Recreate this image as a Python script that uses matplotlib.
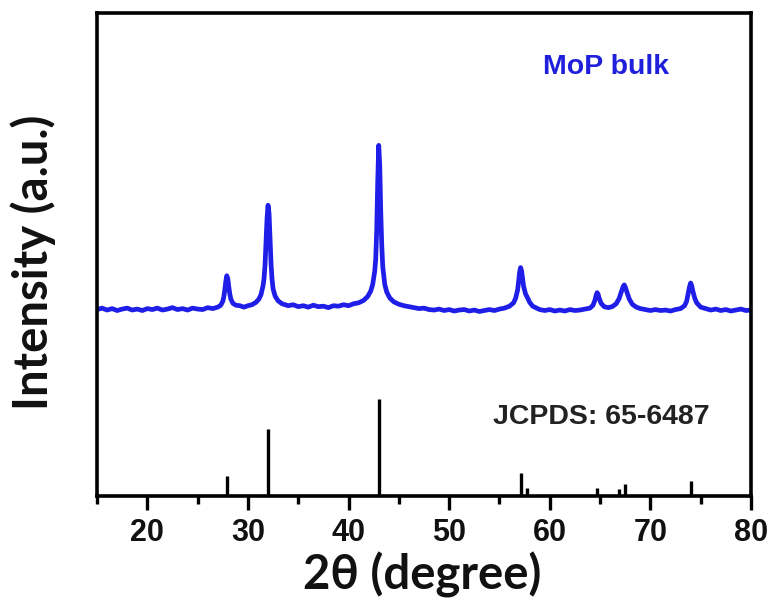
import matplotlib
matplotlib.use("Agg")
import matplotlib.pyplot as plt
from matplotlib.ticker import MultipleLocator

# Measured XRD pattern (2theta, intensity in arbitrary units)
two_theta = [15.0, 15.5, 16.0, 16.5, 17.0, 17.5, 18.0, 18.5, 19.0, 19.5, 20.0, 20.5,
             21.0, 21.5, 22.0, 22.5, 23.0, 23.5, 24.0, 24.5, 25.0, 25.5, 26.0, 26.5,
             27.0, 27.3, 27.5, 27.6, 27.7, 27.8, 27.9, 28.0, 28.1, 28.2, 28.3, 28.5,
             28.8, 29.2, 29.6, 30.0, 30.4, 30.8, 31.1, 31.3, 31.5, 31.6, 31.7, 31.8,
             31.9, 32.0, 32.1, 32.2, 32.3, 32.4, 32.5, 32.7, 33.0, 33.4, 34.0, 34.5,
             35.0, 35.5, 36.0, 36.5, 37.0, 37.5, 38.0, 38.5, 39.0, 39.5, 40.0, 40.5,
             41.0, 41.5, 41.9, 42.2, 42.4, 42.6, 42.7, 42.8, 42.9, 43.0, 43.1, 43.2,
             43.3, 43.4, 43.6, 43.8, 44.1, 44.5, 45.0, 45.5, 46.0, 46.5, 47.0, 47.5,
             48.0, 48.5, 49.0, 49.5, 50.0, 50.5, 51.0, 51.5, 52.0, 52.5, 53.0, 53.5,
             54.0, 54.5, 55.0, 55.5, 56.0, 56.4, 56.6, 56.8, 56.9, 57.0, 57.1, 57.2,
             57.3, 57.4, 57.6, 57.8, 58.0, 58.3, 58.7, 59.0, 59.5, 60.0, 60.5, 61.0,
             61.5, 62.0, 62.5, 63.0, 63.5, 64.0, 64.3, 64.5, 64.6, 64.7, 64.8, 64.9,
             65.1, 65.4, 65.8, 66.2, 66.6, 66.9, 67.1, 67.3, 67.4, 67.5, 67.7, 67.9,
             68.2, 68.6, 69.0, 69.5, 70.0, 70.5, 71.0, 71.5, 72.0, 72.5, 73.0, 73.4,
             73.6, 73.8, 73.9, 74.0, 74.1, 74.2, 74.4, 74.6, 75.0, 75.5, 76.0, 76.5,
             77.0, 77.5, 78.0, 78.5, 79.0, 79.5, 80.0]
intensity = [38.6, 38.9, 38.5, 38.8, 38.4, 38.7, 38.9, 38.5, 38.7, 38.4, 38.8, 38.6,
             38.9, 38.5, 38.7, 39.0, 38.6, 38.8, 38.5, 38.9, 38.7, 38.6, 39.0, 38.8,
             39.1, 39.5, 40.3, 41.2, 42.6, 44.4, 45.6, 45.0, 43.3, 41.8, 40.8, 39.9,
             39.5, 39.4, 39.1, 39.4, 39.6, 40.1, 40.8, 41.7, 43.5, 45.0, 47.8, 52.5,
             57.5, 60.2, 58.5, 53.5, 48.0, 44.8, 42.9, 41.4, 40.4, 39.8, 39.4, 39.6,
             39.2, 39.4, 39.1, 39.5, 39.2, 39.3, 39.0, 39.4, 39.3, 39.6, 39.4, 39.8,
             40.0, 40.5, 41.3, 42.4, 43.8, 46.5, 49.0, 55.0, 65.0, 72.6, 68.5, 59.0,
             52.0, 47.5, 43.8, 42.2, 41.0, 40.2, 39.7, 39.4, 39.2, 39.0, 38.8, 38.9,
             38.6, 38.5, 38.7, 38.4, 38.6, 38.3, 38.5, 38.6, 38.3, 38.5, 38.2, 38.4,
             38.6, 38.4, 38.7, 38.9, 39.3, 40.0, 40.9, 42.6, 44.3, 46.3, 47.3, 46.6,
             45.0, 43.4, 41.8, 41.0, 40.1, 39.3, 38.9, 38.6, 38.4, 38.6, 38.3, 38.5,
             38.3, 38.6, 38.4, 38.5, 38.7, 38.9, 39.5, 40.6, 41.5, 42.1, 41.8, 41.0,
             39.9, 39.2, 39.0, 39.2, 39.8, 40.9, 42.2, 43.4, 43.7, 43.3, 42.0, 40.8,
             39.7, 39.1, 38.8, 38.6, 38.4, 38.6, 38.4, 38.5, 38.3, 38.6, 38.8, 39.4,
             40.3, 42.3, 43.4, 44.1, 43.6, 42.6, 41.0, 40.0, 39.1, 38.8, 38.5, 38.7,
             38.4, 38.6, 38.3, 38.5, 38.7, 38.4, 38.5]

# Reference pattern JCPDS 65-6487 (relative intensity, %)
ref_two_theta = [27.9, 32.0, 43.0, 57.1, 57.7, 64.7, 66.9, 67.5, 74.05]
ref_intensity = [21, 69, 100, 24, 8, 8, 7, 12, 15]
ref_scale = 0.201  # % -> plot units

fig = plt.figure(figsize=(7.75, 6.01), dpi=100)
ax = fig.add_axes([97 / 775, 105 / 601, 654 / 775, 483 / 601])

ax.plot(two_theta, intensity, color="#1e1ee8", lw=3.4, solid_joinstyle="round")
ax.vlines(ref_two_theta, 0, [v * ref_scale for v in ref_intensity],
          color="black", lw=2.4)

ax.set_xlim(15, 80)
ax.set_ylim(0, 100)
ax.xaxis.set_major_locator(MultipleLocator(10))
ax.xaxis.set_minor_locator(MultipleLocator(5))
ax.set_yticks([])
ax.tick_params(axis="x", which="major", direction="out", length=10, width=2.4,
               pad=6, labelsize=22, top=False)
ax.tick_params(axis="x", which="minor", direction="out", length=6, width=2.4,
               top=False)
for lab in ax.get_xticklabels():
    lab.set_fontfamily("Liberation Sans")
    lab.set_fontweight("bold")
    lab.set_color("#111111")
for sp in ax.spines.values():
    sp.set_linewidth(2.6)

fig.text(606 / 775, 1 - 67 / 601, "MoP bulk", ha="center", va="center",
         fontsize=20.5, fontweight="bold", family="Liberation Sans",
         color="#1f1fdc")
fig.text((490 + 713) / 2 / 775, 1 - 417 / 601, "JCPDS: 65-6487",
         ha="center", va="center", fontsize=20.5, fontweight="bold",
         family="Liberation Sans", color="#222222")

fig.text(422 / 775, 1 - 575 / 601, "2θ (degree)", ha="center", va="center",
         fontsize=34, fontweight="bold", family="Lato", color="#111111")
fig.text(33 / 775, 1 - 262 / 601, "Intensity (a.u.)", ha="center", va="center",
         rotation=90, fontsize=34, fontweight="bold", family="Lato", color="#111111")

fig.savefig("out.png", dpi=100)
